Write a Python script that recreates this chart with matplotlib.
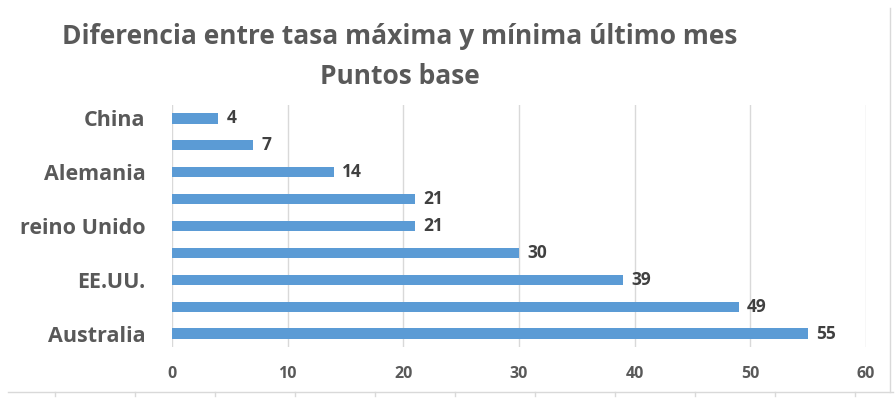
import matplotlib
matplotlib.use("Agg")
import matplotlib.pyplot as plt
from matplotlib.lines import Line2D

categories = ["Australia", "", "EE.UU.", "", "reino Unido", "", "Alemania", "", "China"]
values = [55, 49, 39, 30, 21, 21, 14, 7, 4]
xticks = [0, 10, 20, 30, 40, 50, 60]
title_lines = ["Diferencia entre tasa máxima y mínima último mes", "Puntos base"]

FONT = "Open Sans"
GRAY = "#595959"
BAR = "#5B9BD5"

fig = plt.figure(figsize=(8.96, 3.98), dpi=100)
W, H = 896, 398
ax = fig.add_axes([172 / W, 1 - 347 / H, (866 - 172) / W, (347 - 105) / H])

y = list(range(len(values)))
ax.barh(y, values, height=0.38, color=BAR, zorder=3)
ax.set_ylim(-0.5, len(values) - 0.5)
ax.set_xlim(0, 60)
ax.set_xticks(xticks)
ax.set_xticklabels([str(t) for t in xticks], fontfamily=FONT, fontweight="bold",
                   fontsize=11.5, color=GRAY)
ax.set_yticks(y)
ax.set_yticklabels(categories, fontfamily=FONT, fontweight="bold", fontsize=15.5, color=GRAY)
ax.tick_params(axis="both", length=0)
ax.tick_params(axis="y", pad=19)
ax.tick_params(axis="x", pad=14)
ax.grid(axis="x", color="#D9D9D9", linewidth=1, zorder=0)
for s in ax.spines.values():
    s.set_visible(False)

for yi, v in zip(y, values):
    ax.annotate(str(v), (v, yi), xytext=(6, 0), textcoords="offset points",
                ha="left", va="center", fontfamily=FONT, fontweight="bold",
                fontsize=12.5, color="#404040")

fig.text(400 / W, 1 - 36 / H, title_lines[0], ha="center", va="center",
         fontfamily=FONT, fontweight="bold", fontsize=19, color=GRAY)
fig.text(400 / W, 1 - 76 / H, title_lines[1], ha="center", va="center",
         fontfamily=FONT, fontweight="bold", fontsize=19, color=GRAY)

# worksheet cell borders
fig.add_artist(Line2D([8 / W, 893 / W], [1 - 392 / H, 1 - 392 / H], color="#D9D9D9", lw=1))
fig.add_artist(Line2D([890 / W, 890 / W], [1 - 392 / H, 1 - 8 / H], color="#D9D9D9", lw=1))
for xx in [55, 135, 215, 295, 375, 455, 535, 615, 695, 775, 855]:
    fig.add_artist(Line2D([xx / W, xx / W], [1 - 392 / H, 1 - 396 / H], color="#D9D9D9", lw=1))

fig.savefig("out.png", dpi=100)
